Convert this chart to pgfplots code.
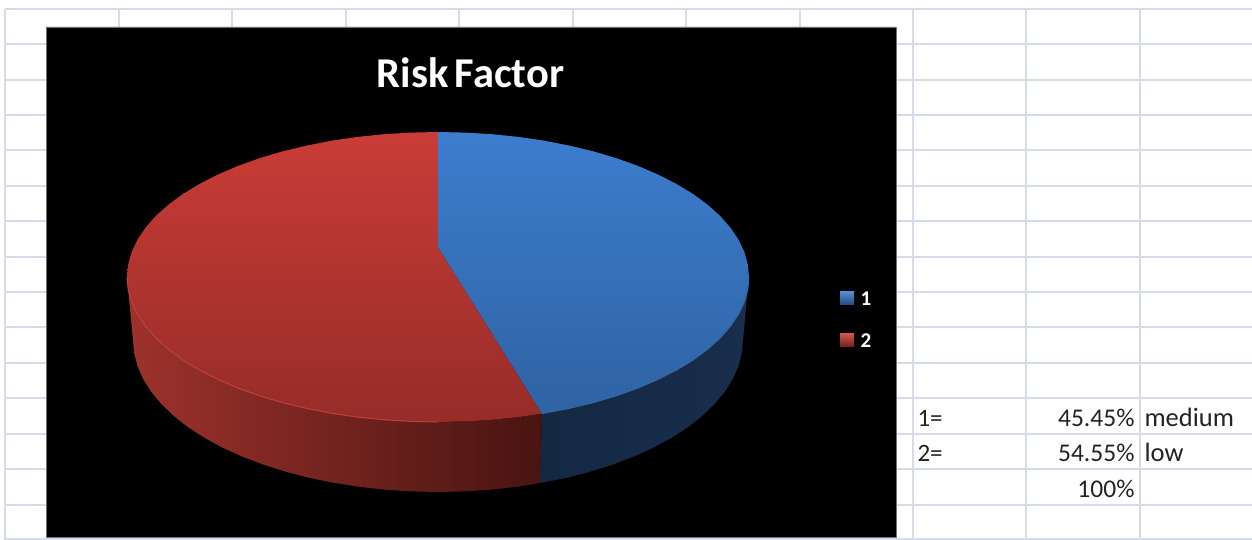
\documentclass[border=0pt]{standalone}
\usepackage{fontspec}
\setmainfont{Carlito}
\usepackage{pgfplots}
\pgfplotsset{compat=1.18}
\definecolor{sheetgrid}{RGB}{214,220,234}
\definecolor{blueTop}{RGB}{60,125,206}
\definecolor{blueLow}{RGB}{47,99,163}
\definecolor{blueWallA}{RGB}{20,40,66}
\definecolor{blueWallB}{RGB}{24,46,76}
\definecolor{redTop}{RGB}{202,60,55}
\definecolor{redLow}{RGB}{150,44,40}
\definecolor{redWallA}{RGB}{158,50,44}
\definecolor{redWallB}{RGB}{120,34,30}
\definecolor{redWallC}{RGB}{72,20,17}
\definecolor{redRim}{RGB}{190,66,60}
\definecolor{blueRim}{RGB}{52,104,165}
\definecolor{celltext}{RGB}{35,35,35}
\begin{document}
\begin{tikzpicture}
\begin{axis}[
  scale only axis, width=1252pt, height=540pt,
  xmin=0, xmax=1252, ymin=0, ymax=540, y dir=reverse,
  axis lines=none, unbounded coords=jump,
]
% page background, which also fixes the extent of the picture
\addplot[fill=white, draw=none] coordinates {(0,0)(1252,0)(1252,540)(0,540)(0,0)};
% worksheet cell borders
\addplot[sheetgrid, line width=1.4pt] coordinates {
  (5,9)(1252,9)(nan,nan)(5,44)(1252,44)(nan,nan)(5,80)(1252,80)(nan,nan)
  (5,115)(1252,115)(nan,nan)(5,150)(1252,150)(nan,nan)(5,186)(1252,186)(nan,nan)
  (5,221)(1252,221)(nan,nan)(5,257)(1252,257)(nan,nan)(5,292)(1252,292)(nan,nan)
  (5,327)(1252,327)(nan,nan)(5,363)(1252,363)(nan,nan)(5,398)(1252,398)(nan,nan)
  (5,434)(1252,434)(nan,nan)(5,469)(1252,469)(nan,nan)(5,505)(1252,505)(nan,nan)
  (5,539)(1252,539)(nan,nan)
  (5,9)(5,540)(nan,nan)(119,9)(119,540)(nan,nan)(232,9)(232,540)(nan,nan)
  (346,9)(346,540)(nan,nan)(459,9)(459,540)(nan,nan)(573,9)(573,540)(nan,nan)
  (686,9)(686,540)(nan,nan)(800,9)(800,540)(nan,nan)(913,9)(913,540)(nan,nan)
  (1026,9)(1026,540)(nan,nan)(1140,9)(1140,540)
};
% chart panel
\addplot[fill=black, draw=black!55, line width=0.7pt] coordinates {(46,27)(896,27)(896,537)(46,537)(46,27)};

% blue outer wall
\addplot[draw=none, shade, left color=blueWallA, right color=blueWallB] coordinates {
  (749,277)(747.8,289.6)(744.3,302.2)(738.4,314.5)(730.2,326.6)(719.9,338.3)(707.3,349.5)
  (692.8,360.2)(676.2,370.2)(657.9,379.5)(637.9,388.1)(616.4,395.8)(593.5,402.6)(569.4,408.4)(542,413.6)
  (540,483)(566.9,477.8)(590.5,471.6)(612.9,464.5)(634.1,456.4)(653.7,447.5)(671.6,437.7)
  (687.9,427.2)(702.1,416.0)(714.4,404.2)(724.6,392.0)(732.6,379.3)(738.4,366.4)(741.8,353.3)(743,340)
};
% red outer wall
\addplot[draw=none, shade, left color=redWallA, middle color=redWallB, right color=redWallC] coordinates {
  (542,413.6)(518.5,417.1)(492.0,419.8)(465.1,421.4)(438,422)(410.9,421.4)(384.0,419.8)(357.5,417.1)
  (331.6,413.3)(306.6,408.4)(282.5,402.6)(259.6,395.8)(238.1,388.1)(218.1,379.5)(199.8,370.2)
  (183.2,360.2)(168.7,349.5)(156.1,338.3)(145.8,326.6)(137.6,314.5)(131.7,302.2)(128.2,289.6)(127,277)
  (133,340)(134.2,353.3)(137.6,366.4)(143.4,379.3)(151.4,392.0)(161.6,404.2)(173.9,416.0)(188.1,427.2)
  (204.4,437.7)(222.3,447.5)(241.9,456.4)(263.1,464.5)(285.5,471.6)(309.1,477.8)(333.7,482.8)
  (359.1,486.8)(385.1,489.7)(411.4,491.4)(438,492)(464.6,491.4)(490.9,489.7)(516.9,486.8)(540,483)
};
% red slice, 54.55 %
\addplot[draw=none, shade, top color=redTop, bottom color=redLow] coordinates {
  (438,132)(438,247)(542,413.6)(518.5,417.1)(492.0,419.8)(465.1,421.4)(438,422)(410.9,421.4)(384.0,419.8)
  (357.5,417.1)(331.6,413.3)(306.6,408.4)(282.5,402.6)(259.6,395.8)(238.1,388.1)(218.1,379.5)
  (199.8,370.2)(183.2,360.2)(168.7,349.5)(156.1,338.3)(145.8,326.6)(137.6,314.5)(131.7,302.2)
  (128.2,289.6)(127,277)(128.2,264.4)(131.7,251.8)(137.6,239.5)(145.8,227.4)(156.1,215.7)(168.7,204.5)
  (183.2,193.8)(199.8,183.8)(218.1,174.5)(238.1,165.9)(259.6,158.2)(282.5,151.4)(306.6,145.6)
  (331.6,140.7)(357.5,136.9)(384.0,134.2)(410.9,132.6)(438,132)
};
% blue slice, 45.45 %
\addplot[draw=none, shade, top color=blueTop, bottom color=blueLow] coordinates {
  (438,132)(465.1,132.6)(492.0,134.2)(518.5,136.9)(544.4,140.7)(569.4,145.6)(593.5,151.4)(616.4,158.2)
  (637.9,165.9)(657.9,174.5)(676.2,183.8)(692.8,193.8)(707.3,204.5)(719.9,215.7)(730.2,227.4)
  (738.4,239.5)(744.3,251.8)(747.8,264.4)(749,277)(747.8,289.6)(744.3,302.2)(738.4,314.5)(730.2,326.6)
  (719.9,338.3)(707.3,349.5)(692.8,360.2)(676.2,370.2)(657.9,379.5)(637.9,388.1)(616.4,395.8)
  (593.5,402.6)(569.4,408.4)(542,413.6)(438,247)(438,132)
};
% bevel along the front edge of the top face
\addplot[redRim, line width=1pt] coordinates {
  (438,422)(410.9,421.4)(384.0,419.8)(357.5,417.1)
  (331.6,413.3)(306.6,408.4)(282.5,402.6)(259.6,395.8)(238.1,388.1)(218.1,379.5)(199.8,370.2)
  (183.2,360.2)(168.7,349.5)(156.1,338.3)(145.8,326.6)(137.6,314.5)(131.7,302.2)(128.2,289.6)(127,277)
};
\addplot[blueRim, line width=0.9pt] coordinates {
  (749,277)(747.8,289.6)(744.3,302.2)(738.4,314.5)(730.2,326.6)(719.9,338.3)(707.3,349.5)
  (692.8,360.2)(676.2,370.2)(657.9,379.5)(637.9,388.1)(616.4,395.8)(593.5,402.6)(569.4,408.4)(542,413.6)
};
% legend swatches
\addplot[draw=none, shade, top color=blueTop!85!white, bottom color=blueLow!80!black] coordinates {(840,291)(854,291)(854,304)(840,304)};
\addplot[draw=none, shade, top color=redTop!85!white, bottom color=redLow!80!black] coordinates {(840,333)(854,333)(854,346)(840,346)};

\node[text=white, font=\fontsize{42.5}{43}\selectfont\bfseries, anchor=center] at (axis cs:470.5,73) {\spaceskip=6pt Risk Factor};
\node[text=white, font=\fontsize{21}{21}\selectfont\bfseries, anchor=center] at (axis cs:866,298.5) {1};
\node[text=white, font=\fontsize{21}{21}\selectfont\bfseries, anchor=center] at (axis cs:866,341) {2};

\node[text=celltext, font=\fontsize{25}{25}\selectfont, anchor=base west] at (axis cs:914,426) {1=};
\node[text=celltext, font=\fontsize{25}{25}\selectfont, anchor=base west] at (axis cs:914,461) {2=};
\node[text=celltext, font=\fontsize{25.5}{25}\selectfont, anchor=base east] at (axis cs:1138,426) {45.45\%};
\node[text=celltext, font=\fontsize{25.5}{25}\selectfont, anchor=base east] at (axis cs:1138,461) {54.55\%};
\node[text=celltext, font=\fontsize{25.5}{25}\selectfont, anchor=base east] at (axis cs:1138,497) {100\%};
\node[text=celltext, font=\fontsize{26.5}{25}\selectfont, anchor=base west] at (axis cs:1141,426) {medium};
\node[text=celltext, font=\fontsize{26.5}{25}\selectfont, anchor=base west] at (axis cs:1141,461) {low};
\end{axis}
\end{tikzpicture}
\end{document}
